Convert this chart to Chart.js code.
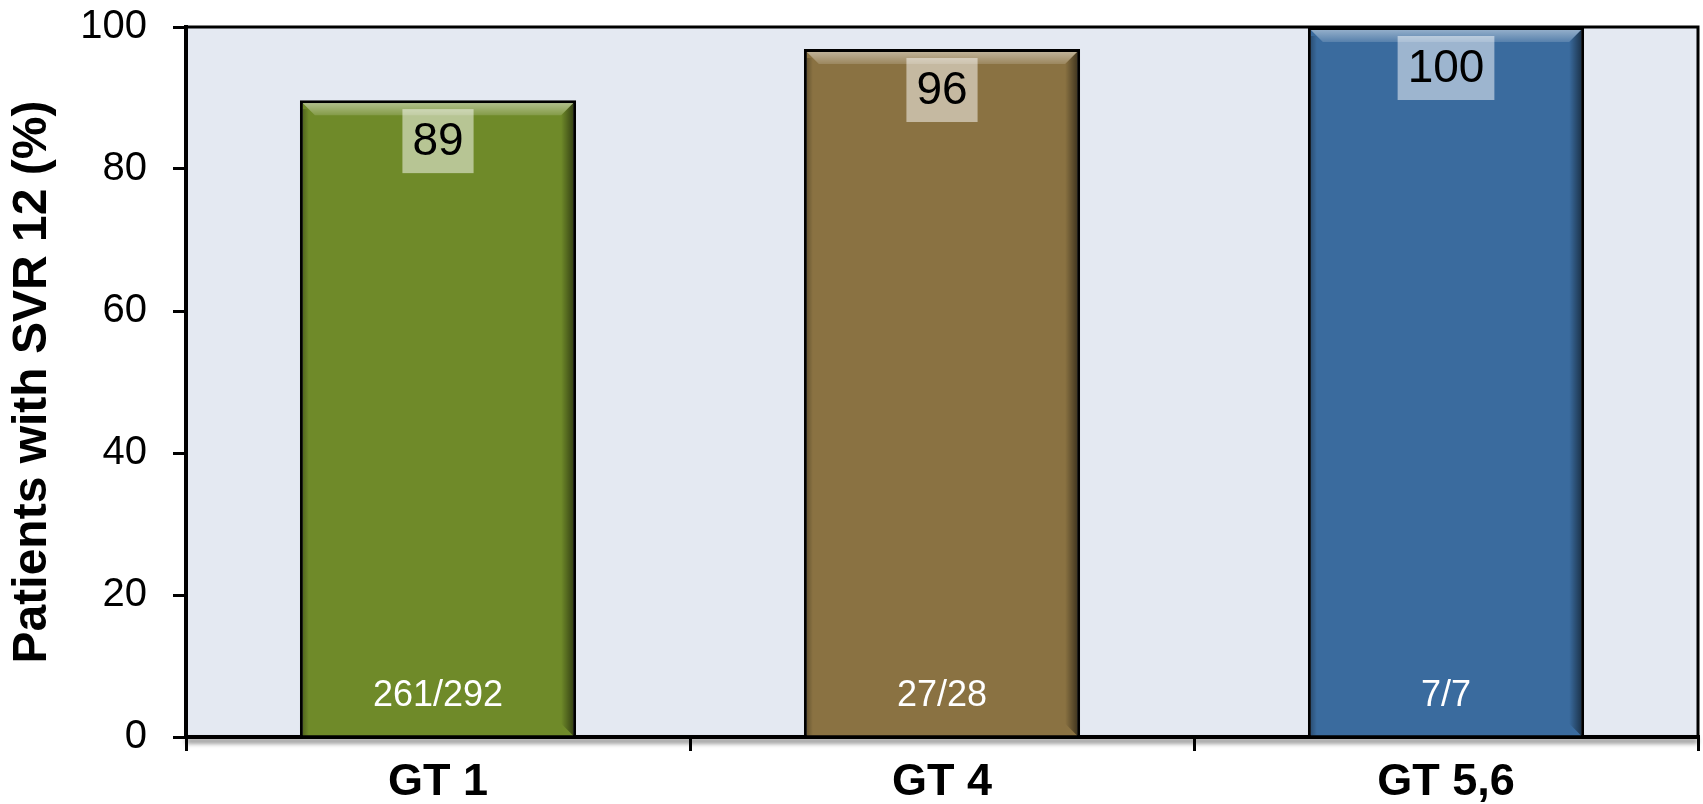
<!DOCTYPE html>
<html>
<head>
<meta charset="utf-8">
<script src="https://cdn.jsdelivr.net/npm/chart.js@4.4.1/dist/chart.umd.min.js"></script>
<style>
  html, body { margin: 0; padding: 0; background: #fff; }
  #wrap { width: 1703px; height: 804px; position: relative; }
</style>
</head>
<body>
<div id="wrap"><canvas id="svrChart"></canvas></div>
<script>
let genotypes = ['GT 1', 'GT 4', 'GT 5,6'];
let svrRates = [89.7, 96.9, 100];
let rateLabels = ['89', '96', '100'];
let patientCounts = ['261/292', '27/28', '7/7'];
let yTicks = [0, 20, 40, 60, 80, 100];
let barColors = ['#6F8A29', '#8A7242', '#3A6B9E'];

Chart.defaults.font.family = '"Liberation Sans", Arial, sans-serif';
Chart.defaults.color = '#000';

// light panel behind the bars
let plotBackground = {
    id: 'plotBackground',
    beforeDraw(chart) {
        let a = chart.chartArea;
        let ctx = chart.ctx;
        ctx.save();
        ctx.fillStyle = '#E4E9F2';
        ctx.fillRect(a.left, a.top, a.right - a.left, a.bottom - a.top);
        ctx.restore();
    },
    beforeDatasetsDraw(chart) {
        let a = chart.chartArea;
        let ctx = chart.ctx;
        ctx.save();
        // top and right frame
        ctx.strokeStyle = '#000';
        ctx.lineWidth = 3;
        ctx.beginPath();
        ctx.moveTo(a.left, a.top);
        ctx.lineTo(a.right, a.top);
        ctx.lineTo(a.right, a.bottom);
        ctx.stroke();
        // soft shadow under the x axis
        ctx.shadowColor = 'rgba(0,0,0,0.55)';
        ctx.shadowBlur = 5;
        ctx.shadowOffsetY = 4;
        ctx.lineWidth = 4;
        ctx.beginPath();
        ctx.moveTo(a.left, a.bottom);
        ctx.lineTo(a.right, a.bottom);
        ctx.stroke();
        ctx.restore();
    }
};

// bevel look on bars plus the value boxes and counts
let barDecor = {
    id: 'barDecor',
    afterDatasetsDraw(chart) {
        let ctx = chart.ctx;
        let meta = chart.getDatasetMeta(0);
        meta.data.forEach((bar, i) => {
            let p = bar.getProps(['x', 'y', 'width', 'base'], true);
            let left = p.x - p.width / 2 + 3;
            let right = p.x + p.width / 2 - 3;
            let top = p.y + 3;
            let bottom = p.base;
            let bev = 12;

            ctx.save();
            let g = ctx.createLinearGradient(0, top, 0, top + bev);
            g.addColorStop(0, 'rgba(255,255,255,0.45)');
            g.addColorStop(1, 'rgba(255,255,255,0.15)');
            ctx.fillStyle = g;
            ctx.beginPath();
            ctx.moveTo(left, top);
            ctx.lineTo(right, top);
            ctx.lineTo(right - bev, top + bev);
            ctx.lineTo(left + bev, top + bev);
            ctx.closePath();
            ctx.fill();

            let s = ctx.createLinearGradient(right - bev, 0, right, 0);
            s.addColorStop(0, 'rgba(0,0,0,0)');
            s.addColorStop(1, 'rgba(0,0,0,0.5)');
            ctx.fillStyle = s;
            ctx.beginPath();
            ctx.moveTo(right, top);
            ctx.lineTo(right, bottom);
            ctx.lineTo(right - bev, bottom - bev);
            ctx.lineTo(right - bev, top + bev);
            ctx.closePath();
            ctx.fill();

            let l = ctx.createLinearGradient(left, 0, left + 6, 0);
            l.addColorStop(0, 'rgba(0,0,0,0.25)');
            l.addColorStop(1, 'rgba(0,0,0,0)');
            ctx.fillStyle = l;
            ctx.fillRect(left, top + 6, 6, bottom - top - 6);

            // value box
            ctx.font = '46px "Liberation Sans", Arial, sans-serif';
            let tw = ctx.measureText(rateLabels[i]).width;
            let bw = tw + 20;
            let bh = 64;
            let by = p.y + 9;
            ctx.fillStyle = 'rgba(255,255,255,0.5)';
            ctx.fillRect(p.x - bw / 2, by, bw, bh);
            ctx.fillStyle = '#000';
            ctx.textAlign = 'center';
            ctx.textBaseline = 'middle';
            ctx.fillText(rateLabels[i], p.x, by + bh / 2 + 1);

            // patient counts
            ctx.font = '36px "Liberation Sans", Arial, sans-serif';
            ctx.fillStyle = '#fff';
            ctx.fillText(patientCounts[i], p.x, p.base - 39);
            ctx.restore();
        });
    }
};

let ctx = document.getElementById('svrChart').getContext('2d');
let chart = new Chart(ctx, {
    type: 'bar',
    data: {
        labels: genotypes,
        datasets: [{
            data: svrRates,
            backgroundColor: barColors,
            borderColor: '#000',
            borderWidth: 3,
            borderSkipped: 'start',
            categoryPercentage: 1,
            barPercentage: 0.548
        }]
    },
    options: {
        responsive: true,
        maintainAspectRatio: false,
        animation: false,
        layout: { padding: { top: 27, right: 5, left: 0, bottom: 0 } },
        plugins: {
            legend: { display: false },
            tooltip: { enabled: false }
        },
        scales: {
            x: {
                z: 1,
                grid: { display: true, drawOnChartArea: false, drawTicks: true, tickLength: 14, color: '#000', lineWidth: 3 },
                border: { display: true, color: '#000', width: 4 },
                ticks: { font: { size: 45, weight: 'bold' }, padding: 5, color: '#000' },
                afterFit(scale) { scale.height = 67; }
            },
            y: {
                min: 0,
                max: 100,
                afterBuildTicks(scale) { scale.ticks = yTicks.map(v => ({ value: v })); },
                grid: { display: true, drawOnChartArea: false, drawTicks: true, tickLength: 13, color: '#000', lineWidth: 3 },
                border: { display: true, color: '#000', width: 4 },
                ticks: { font: { size: 40 }, padding: 26, color: '#000' },
                title: {
                    display: true,
                    text: 'Patients with SVR 12 (%)',
                    font: { size: 48, weight: 'bold', lineHeight: 1.2 },
                    padding: { top: 4, bottom: 0 },
                    color: '#000'
                },
                afterFit(scale) {
                    scale.width = 186;
                    scale.paddingTop = 0;
                    scale.paddingBottom = 0;
                }
            }
        }
    },
    plugins: [plotBackground, barDecor]
});
</script>
</body>
</html>
